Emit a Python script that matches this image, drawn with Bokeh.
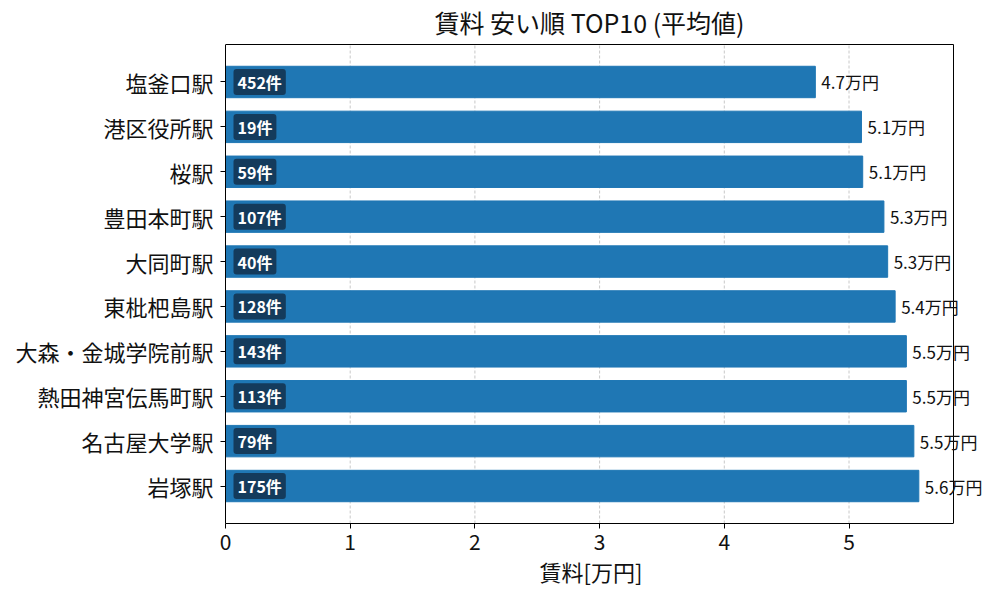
from bokeh.core.properties import value
from bokeh.embed import file_html
from bokeh.models import ColumnDataSource, Label, Range1d, Title
from bokeh.plotting import figure
from bokeh.resources import INLINE

stations = ["塩釜口駅", "港区役所駅", "桜駅", "豊田本町駅", "大同町駅",
            "東枇杷島駅", "大森・金城学院前駅", "熱田神宮伝馬町駅", "名古屋大学駅", "岩塚駅"]
rents = [4.73, 5.10, 5.11, 5.28, 5.31, 5.37, 5.46, 5.46, 5.52, 5.56]
counts = [452, 19, 59, 107, 40, 128, 143, 113, 79, 175]
x_ticks = [0, 1, 2, 3, 4, 5]

FONT = "Noto Sans CJK JP"

# axes box (matplotlib style): 728 x 479 px, starting at (225, 44)
BOX_W, BOX_H, BOX_TOP = 728, 479, 44
FRAME_W = 767            # frame runs on past the box so labels are not clipped
FRAME_H = BOX_H + BOX_TOP

n = len(stations)
ypos = [n - 1 - i for i in range(n)]       # first station on top
x_max = max(rents) * 1.05
y_lo, y_hi = -0.35 - 0.05 * (n - 0.3), (n - 1) + 0.35 + 0.05 * (n - 0.3)
x_end = x_max * FRAME_W / BOX_W
y_end = y_lo + (y_hi - y_lo) * FRAME_H / BOX_H

source = ColumnDataSource(data=dict(
    y=ypos,
    rent=rents,
    zero=[0] * n,
    rent_label=[f"{r:.1f}万円" for r in rents],
    count_label=[f"{c}件" for c in counts],
))

p = figure(
    x_range=Range1d(0, x_end), y_range=Range1d(y_lo, y_end),
    frame_width=FRAME_W, frame_height=FRAME_H,
    min_border_left=225, min_border_right=0,
    min_border_top=0, min_border_bottom=69,
    output_backend="svg", toolbar_location=None,
)
p.outline_line_color = None
p.xgrid.grid_line_color = None
p.ygrid.grid_line_color = None

# dashed vertical grid, kept inside the box
p.segment(x0=x_ticks[1:], x1=x_ticks[1:], y0=[y_lo] * 5, y1=[y_hi] * 5,
          line_color="#b0b0b0", line_alpha=0.7, line_width=1, line_dash="3 2")

p.hbar(y="y", right="rent", left=0, height=0.7, color="#1f77b4", source=source)

# top and right spines
p.segment(x0=[0, x_max], x1=[x_max, x_max], y0=[y_hi, y_lo], y1=[y_hi, y_hi],
          line_color="black", line_width=1)

p.text(x="rent", y="y", text="rent_label", source=source,
       x_offset=6, text_baseline="middle", text_align="left",
       text_font=value(FONT), text_font_size="17px", text_color="#111111")

# padding is (horizontal, vertical)
p.text(x="zero", y="y", text="count_label", source=source,
       x_offset=8, text_baseline="middle", text_align="left",
       text_font=value(FONT), text_font_size="16px", text_font_style="bold",
       text_color="white", background_fill_color="#143b5c",
       padding=(4, 1), border_radius=3)

p.add_layout(Label(x=BOX_W / 2, y=FRAME_H - 21.5, x_units="screen", y_units="screen",
                   text="賃料 安い順 TOP10 (平均値)", text_align="center",
                   text_baseline="middle", text_font=FONT, text_font_size="25px",
                   text_color="#111111"))

# x label centred under the box, not under the wider frame
p.add_layout(Title(text="賃料[万円]", align="left", offset=BOX_W / 2 - 50,
                   standoff=0, text_font=FONT, text_font_size="22px",
                   text_font_style="normal", text_color="#111111"), "below")

p.xaxis.ticker = x_ticks
p.xaxis.bounds = (0, x_max)

p.yaxis.ticker = ypos
p.yaxis.major_label_overrides = {y: s for y, s in zip(ypos, stations)}
p.yaxis.bounds = (y_lo, y_hi)

for ax in (p.xaxis, p.yaxis):
    ax.major_label_text_font = FONT
    ax.major_label_text_color = "#111111"
    ax.axis_line_color = "black"
    ax.major_tick_line_color = "black"
    ax.major_tick_out = 5
    ax.major_tick_in = 0
    ax.minor_tick_line_color = None

p.xaxis.major_label_text_font_size = "21px"
p.yaxis.major_label_text_font_size = "22px"
p.yaxis.major_label_standoff = 7
p.background_fill_color = "white"

open("out.html", "w").write(file_html(p, INLINE))
